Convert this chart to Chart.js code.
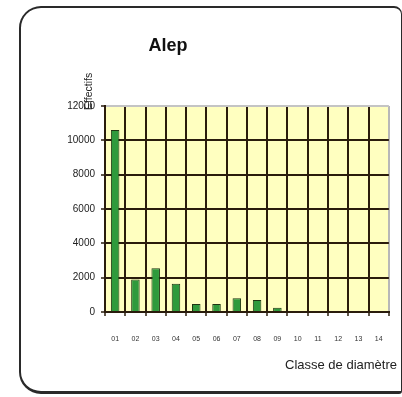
<!DOCTYPE html>
<html><head><meta charset="utf-8">
<script src="https://cdn.jsdelivr.net/npm/chart.js@4"></script>
<style>
html,body{margin:0;padding:0;background:#fff;overflow:hidden}
#wrap{position:relative;width:402px;height:397px}
#frame{position:absolute;left:19px;top:6px;width:383px;height:388px;border:2px solid #2a2a2a;border-right-width:1px;border-bottom-width:3px;border-radius:22px 8px 3px 22px;box-sizing:border-box;pointer-events:none}
canvas{position:absolute;left:0;top:0}
</style></head>
<body><div id="wrap"><canvas id="c" width="402" height="397"></canvas><div id="frame"></div></div>
<script>
const categories = ["01","02","03","04","05","06","07","08","09","10","11","12","13","14"];
const effectifs = [10600,1900,2550,1650,470,470,800,700,250,0,0,0,0,0];
const yTicks = [0,2000,4000,6000,8000,10000,12000];
const chartTitle = "Alep";
const yTitle = "Effectifs";
const xTitle = "Classe de diamètre";

const FONT = "'Liberation Sans', Arial, sans-serif";
const DARK = "#2a1c0c";

const deco = {
  id:'deco',
  beforeDraw(chart){
    const {ctx, chartArea:a} = chart;
    ctx.save();
    ctx.fillStyle = "#ffffc0";
    ctx.fillRect(a.left, a.top, a.right-a.left, a.bottom-a.top);
    ctx.restore();
  },
  afterDraw(chart){
    const {ctx, chartArea:a} = chart;
    ctx.save();
    ctx.fillStyle = "#111";
    ctx.font = "bold 18px " + FONT;
    ctx.textAlign = "center"; ctx.textBaseline = "middle";
    ctx.fillText(chartTitle, 168, 46);
    ctx.font = "10.5px " + FONT;
    ctx.fillStyle = "#222";
    ctx.translate(89, a.top + 4);
    ctx.rotate(-Math.PI/2);
    ctx.textAlign = "left";
    ctx.fillText(yTitle, 0, 0);
    ctx.restore();
    ctx.save();
    ctx.fillStyle = "#222";
    ctx.font = "13px " + FONT;
    ctx.textAlign = "right"; ctx.textBaseline = "middle";
    ctx.fillText(xTitle, 397, 365);
    ctx.restore();
  }
};

new Chart(document.getElementById('c'), {
  type:'bar',
  data:{labels:categories, datasets:[{data:effectifs, backgroundColor:"#2f9a3c", borderColor:"#1f3512", borderWidth:1, barPercentage:0.42, categoryPercentage:1}]},
  options:{
    responsive:false, animation:false, devicePixelRatio:1,
    layout:{padding:{left:0,right:10,top:106,bottom:0}},
    plugins:{legend:{display:false}, tooltip:{enabled:false}, title:{display:false}},
    scales:{
      x:{
        afterFit(s){ s.height = 85; },
        grid:{offset:true, color:(c)=> c.index===undefined ? "#b8b8b8" : DARK, lineWidth:2, tickLength:4, tickColor:DARK, tickWidth:1.5},
        border:{color:DARK, width:2},
        ticks:{font:{family:FONT,size:7}, color:"#333", padding:19, maxRotation:0, autoSkip:false}
      },
      y:{
        min:0, max:12000,
        afterFit(s){ s.width = 105; },
        afterBuildTicks(s){ s.ticks = yTicks.map(v=>({value:v})); },
        grid:{color:(c)=> c.tick && c.tick.value===12000 ? "#c4c4c4" : DARK, lineWidth:2, tickLength:4, tickColor:DARK, tickWidth:1.5},
        border:{color:DARK, width:2},
        ticks:{font:{family:FONT,size:10}, color:"#222", padding:6, callback:(v)=>String(v)}
      }
    }
  },
  plugins:[deco]
});
</script></body></html>
